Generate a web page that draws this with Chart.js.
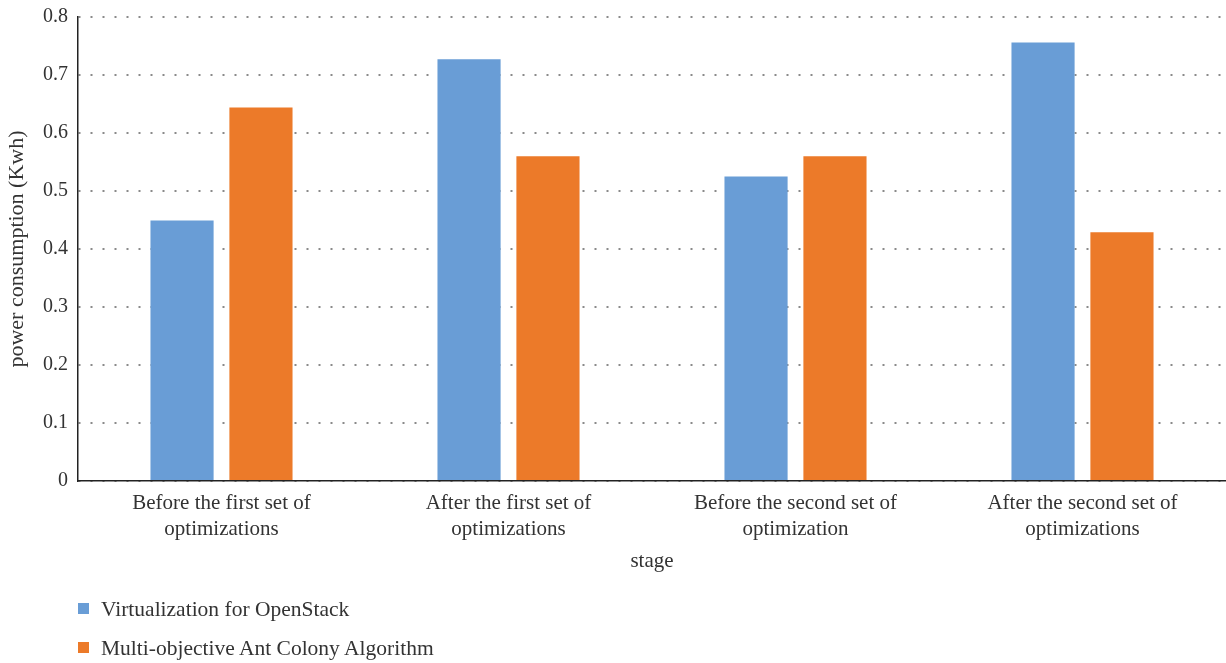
<!DOCTYPE html>
<html>
<head>
<meta charset="utf-8">
<script src="https://cdn.jsdelivr.net/npm/chart.js@4"></script>
<style>
  html, body { margin: 0; padding: 0; background: #fff; }
  #wrap { position: relative; width: 1226px; height: 663px; }
  .legend-item { position: absolute; left: 78px; font-family: "Liberation Serif", serif; font-size: 21.5px; color: #333; line-height: 24px; }
  .legend-item span.box { position: absolute; left: 0; top: 6px; width: 11px; height: 11px; }
  .legend-item span.txt { position: absolute; left: 23px; top: 0; white-space: nowrap; }
</style>
</head>
<body>
<div id="wrap">
  <canvas id="chart"></canvas>
  <div class="legend-item" style="top:597px"><span class="box" style="background:#699dd6"></span><span class="txt">Virtualization for OpenStack</span></div>
  <div class="legend-item" style="top:636px"><span class="box" style="background:#ec7a29"></span><span class="txt">Multi-objective Ant Colony Algorithm</span></div>
</div>
<script>
const stages = [
  ['Before the first set of', 'optimizations'],
  ['After the first set of', 'optimizations'],
  ['Before the second set of', 'optimization'],
  ['After the second set of', 'optimizations']
];
const openstack = [0.449, 0.727, 0.525, 0.756];
const antColony = [0.644, 0.56, 0.56, 0.429];
const seriesNames = ['Virtualization for OpenStack', 'Multi-objective Ant Colony Algorithm'];

const serif = 'Liberation Serif';

let ctx = document.getElementById('chart');
new Chart(ctx, {
  type: 'bar',
  data: {
    labels: stages,
    datasets: [
      {
        label: seriesNames[0],
        data: openstack,
        backgroundColor: '#699dd6',
        categoryPercentage: 0.55,
        barPercentage: 0.8,
      },
      {
        label: seriesNames[1],
        data: antColony,
        backgroundColor: '#ec7a29',
        categoryPercentage: 0.55,
        barPercentage: 0.8,
      },
    ],
  },
  options: {
    responsive: true,
    maintainAspectRatio: false,
    animation: false,
    layout: { padding: { top: 17, right: 0, bottom: 82, left: 0 } },
    plugins: {
      legend: { display: false },
      tooltip: { enabled: false },
    },
    scales: {
      x: {
        grid: { display: false, drawTicks: false },
        border: { display: true, color: '#222', width: 1.5 },
        ticks: {
          padding: 9,
          color: '#333',
          maxRotation: 0,
          font: { family: serif, size: 21, lineHeight: 1.24 },
        },
        title: {
          display: true,
          text: 'stage',
          color: '#333',
          padding: { top: 0, bottom: 7 },
          font: { family: serif, size: 21 },
        },
        afterFit: (scale) => { scale.height = 100; },
      },
      y: {
        min: 0,
        max: 0.8,
        ticks: {
          stepSize: 0.1,
          padding: 10,
          color: '#333',
          font: { family: serif, size: 20 },
        },
        grid: {
          drawTicks: false,
          color: '#8a8a8a',
          lineWidth: 2,
        },
        border: { display: true, color: '#222', width: 1.5, dash: [2, 10] },
        title: {
          display: true,
          text: 'power consumption (Kwh)',
          color: '#333',
          padding: { top: 4, bottom: 0 },
          font: { family: serif, size: 22 },
        },
        afterFit: (scale) => {
          scale.width = 78;
          scale.paddingTop = 0;
          scale.paddingBottom = 0;
        },
      },
    },
  },
});
</script>
</body>
</html>
